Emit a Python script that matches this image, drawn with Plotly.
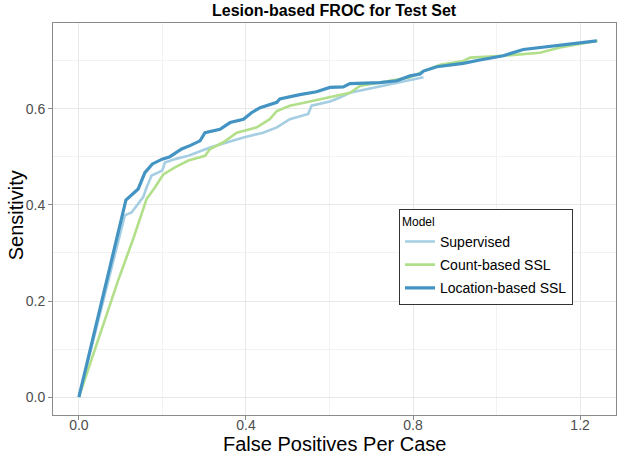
import plotly.graph_objects as go

# Supervised
sup_x = [0.0, 0.110, 0.126, 0.138, 0.154, 0.162, 0.174, 0.1995, 0.206, 0.230, 0.262, 0.314, 0.354, 0.394, 0.441, 0.474, 0.505, 0.549, 0.557, 0.601, 0.625, 0.649, 0.825]
sup_y = [0.0, 0.378, 0.384, 0.398, 0.416, 0.436, 0.461, 0.471, 0.488, 0.495, 0.502, 0.519, 0.530, 0.540, 0.550, 0.561, 0.578, 0.589, 0.606, 0.615, 0.623, 0.633, 0.665]

# Count-based SSL
cnt_x = [0.0, 0.094, 0.130, 0.162, 0.182, 0.202, 0.230, 0.262, 0.302, 0.314, 0.346, 0.378, 0.426, 0.457, 0.474, 0.505, 0.553, 0.601, 0.625, 0.649, 0.673, 0.721, 0.793, 0.825, 0.865, 0.920, 0.937, 1.016, 1.104, 1.152, 1.242]
cnt_y = [0.0, 0.243, 0.329, 0.412, 0.436, 0.463, 0.478, 0.492, 0.502, 0.516, 0.530, 0.550, 0.561, 0.578, 0.595, 0.606, 0.615, 0.624, 0.629, 0.633, 0.647, 0.654, 0.665, 0.678, 0.691, 0.699, 0.706, 0.710, 0.716, 0.727, 0.741]

# Location-based SSL
loc_x = [0.0, 0.1126, 0.142, 0.158, 0.176, 0.1995, 0.218, 0.246, 0.266, 0.290, 0.302, 0.338, 0.362, 0.394, 0.414, 0.434, 0.474, 0.481, 0.529, 0.569, 0.601, 0.633, 0.649, 0.721, 0.761, 0.793, 0.817, 0.825, 0.857, 0.920, 0.960, 1.016, 1.064, 1.240]
loc_y = [0.0, 0.410, 0.433, 0.467, 0.485, 0.495, 0.500, 0.516, 0.523, 0.533, 0.550, 0.557, 0.571, 0.578, 0.592, 0.602, 0.613, 0.620, 0.629, 0.635, 0.644, 0.645, 0.652, 0.654, 0.658, 0.668, 0.672, 0.678, 0.687, 0.694, 0.701, 0.710, 0.723, 0.741]

x_ticks = [0.0, 0.4, 0.8, 1.2]
y_ticks = [0.0, 0.2, 0.4, 0.6]

FONT = "Liberation Sans, Arial, sans-serif"

W, H = 619, 454
ML, MR, MT, MB = 53, 3, 22.5, 39
PW, PH = W - ML - MR, H - MT - MB

fig = go.Figure()
fig.add_trace(go.Scatter(x=sup_x, y=sup_y, mode="lines", name="Supervised", legendgroup="a",
                         line=dict(color="#a6cee3", width=2.6)))
fig.add_trace(go.Scatter(x=cnt_x, y=cnt_y, mode="lines", name="Count-based SSL", legendgroup="b",
                         line=dict(color="#b2df8a", width=2.6)))
fig.add_trace(go.Scatter(x=loc_x, y=loc_y, mode="lines", name="Location-based SSL", legendgroup="c",
                         line=dict(color="#4393c3", width=3.2)))

axis_common = dict(
    showline=True, linecolor="#8a8a8a", linewidth=1, mirror=True,
    ticks="outside", ticklen=4, tickcolor="#8a8a8a", tickwidth=1,
    showgrid=True, gridcolor="#e8e8e8", gridwidth=1,
    zeroline=False, automargin=False,
    tickfont=dict(family=FONT, size=14, color="#4d4d4d"),
)

fig.update_layout(
    width=W, height=H,
    margin=dict(l=ML, r=MR, t=MT, b=MB),
    paper_bgcolor="white", plot_bgcolor="white",
    font=dict(family=FONT),
    xaxis=dict(range=[-0.062, 1.286], tickvals=x_ticks, ticktext=["0.0", "0.4", "0.8", "1.2"],
               minor=dict(tickvals=[0.2, 0.6, 1.0], showgrid=True, gridcolor="#f2f2f2", gridwidth=1, ticks=""),
               ticklabelstandoff=-7,
               **axis_common),
    yaxis=dict(range=[-0.037, 0.778], tickvals=y_ticks, ticktext=["0.0", "0.2", "0.4", "0.6"],
               minor=dict(tickvals=[0.1, 0.3, 0.5, 0.7], showgrid=True, gridcolor="#f2f2f2", gridwidth=1, ticks=""),
               **axis_common),
    legend=dict(x=(399 - ML) / PW, y=(H - MB - 209) / PH, xanchor="left", yanchor="top",
                bgcolor="white", bordercolor="#333333", borderwidth=1,
                title=dict(text="Model", font=dict(family=FONT, size=12, color="black")),
                font=dict(family=FONT, size=14, color="black"),
                traceorder="grouped", tracegroupgap=2,
                itemwidth=30),
    showlegend=True,
    annotations=[
        dict(text="<b>Lesion-based FROC for Test Set</b>", xref="paper", yref="paper",
             x=0.5, y=1 + (MT - 9.5) / PH, xanchor="center", yanchor="middle", showarrow=False,
             font=dict(family=FONT, size=16, color="black")),
        dict(text="False Positives Per Case", xref="paper", yref="paper",
             x=0.5, y=-(444 - (H - MB)) / PH, xanchor="center", yanchor="middle", showarrow=False,
             font=dict(family=FONT, size=20, color="black")),
        dict(text="Sensitivity", xref="paper", yref="paper", textangle=-90,
             x=-(ML - 16) / PW, y=(H - MB - 215) / PH, xanchor="center", yanchor="middle", showarrow=False,
             font=dict(family=FONT, size=20, color="black")),
    ],
)

fig.write_html("out.html", config={"displayModeBar": False},
               post_script="document.body.style.margin='0';document.body.style.overflow='hidden';")
